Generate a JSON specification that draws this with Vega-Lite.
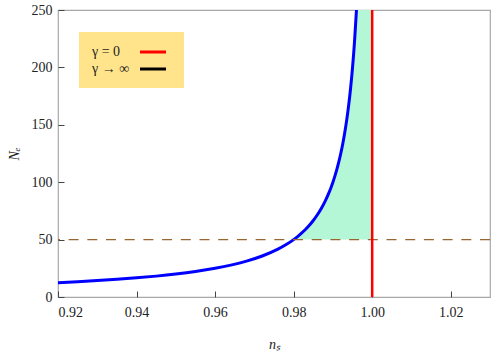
{
  "$schema": "https://vega.github.io/schema/vega-lite/v6.json",
  "width": 432,
  "height": 287,
  "autosize": {"type": "none"},
  "padding": {"left": 58, "top": 10, "right": 1, "bottom": 57},
  "background": "white",
  "config": {
    "view": {"stroke": "#A8A8A8", "strokeWidth": 1.2},
    "font": "Liberation Serif"
  },
  "datasets": {
    "curve": [
      {"n": 0.92, "N": 12.5},
      {"n": 0.925, "N": 13.33},
      {"n": 0.93, "N": 14.29},
      {"n": 0.935, "N": 15.38},
      {"n": 0.94, "N": 16.67},
      {"n": 0.945, "N": 18.18},
      {"n": 0.95, "N": 20.0},
      {"n": 0.955, "N": 22.22},
      {"n": 0.96, "N": 25.0},
      {"n": 0.964, "N": 27.78},
      {"n": 0.968, "N": 31.25},
      {"n": 0.972, "N": 35.71},
      {"n": 0.976, "N": 41.67},
      {"n": 0.978, "N": 45.45},
      {"n": 0.98, "N": 50.0},
      {"n": 0.981, "N": 52.63},
      {"n": 0.982, "N": 55.56},
      {"n": 0.983, "N": 58.82},
      {"n": 0.984, "N": 62.5},
      {"n": 0.985, "N": 66.67},
      {"n": 0.986, "N": 71.43},
      {"n": 0.987, "N": 76.92},
      {"n": 0.988, "N": 83.33},
      {"n": 0.989, "N": 90.91},
      {"n": 0.9895, "N": 95.24},
      {"n": 0.99, "N": 100.0},
      {"n": 0.9905, "N": 105.26},
      {"n": 0.991, "N": 111.11},
      {"n": 0.9915, "N": 117.65},
      {"n": 0.992, "N": 125.0},
      {"n": 0.9925, "N": 133.33},
      {"n": 0.993, "N": 142.86},
      {"n": 0.9935, "N": 153.85},
      {"n": 0.994, "N": 166.67},
      {"n": 0.9945, "N": 181.82},
      {"n": 0.995, "N": 200.0},
      {"n": 0.9955, "N": 222.22},
      {"n": 0.996, "N": 250.0}
    ]
  },
  "layer": [
    {
      "data": {"name": "curve"},
      "transform": [{"filter": "datum.N >= 50"}],
      "mark": {"type": "area", "orient": "horizontal", "color": "#B3F7D6", "clip": true},
      "encoding": {
        "y": {
          "field": "N", "type": "quantitative",
          "scale": {"domain": [0, 250], "nice": false, "zero": false},
          "axis": {
            "orient": "left",
            "title": "Nₑ",
            "values": [0, 50, 100, 150, 200, 250],
            "offset": -6,
            "tickSize": 6, "tickColor": "#444444", "tickWidth": 1,
            "domain": false, "grid": false,
            "labelFont": "Liberation Serif", "labelFontSize": 14, "labelColor": "#222222",
            "labelPadding": 6,
            "titleFont": "Liberation Serif", "titleFontStyle": "italic", "titleFontWeight": "normal", "titleFontSize": 14, "titleColor": "#222222",
            "titlePadding": 10
          }
        },
        "x": {
          "field": "n", "type": "quantitative",
          "scale": {"domain": [0.92, 1.03], "nice": false, "zero": false},
          "axis": {
            "orient": "bottom",
            "title": "nₛ",
            "values": [0.92, 0.94, 0.96, 0.98, 1.0, 1.02],
            "format": ".2f",
            "offset": -6,
            "tickSize": 6, "tickColor": "#444444", "tickWidth": 1,
            "domain": false, "grid": false,
            "labelFont": "Liberation Serif", "labelFontSize": 14, "labelColor": "#222222",
            "labelPadding": 8,
            "titleFont": "Liberation Serif", "titleFontStyle": "italic", "titleFontWeight": "normal", "titleFontSize": 14, "titleColor": "#222222",
            "titlePadding": 18
          }
        },
        "x2": {"datum": 1}
      }
    },
    {
      "data": {"name": "curve"},
      "mark": {"type": "line", "color": "#0000FF", "strokeWidth": 3, "interpolate": "monotone", "clip": true},
      "encoding": {
        "x": {"field": "n", "type": "quantitative", "scale": {"domain": [0.92, 1.03], "nice": false, "zero": false}},
        "y": {"field": "N", "type": "quantitative", "scale": {"domain": [0, 250], "nice": false, "zero": false}}
      }
    },
    {
      "data": {"values": [{"N": 50}]},
      "mark": {"type": "rule", "color": "#996633", "strokeWidth": 1.3, "strokeDash": [10, 8.7]},
      "encoding": {
        "y": {"field": "N", "type": "quantitative", "scale": {"domain": [0, 250], "nice": false, "zero": false}}
      }
    },
    {
      "data": {"values": [{"n": 1, "case": "γ = 0"}]},
      "mark": {"type": "rule", "strokeWidth": 2.5},
      "encoding": {
        "x": {"field": "n", "type": "quantitative", "scale": {"domain": [0.92, 1.03], "nice": false, "zero": false}},
        "color": {
          "field": "case",
          "type": "nominal",
          "scale": {"domain": ["γ = 0", "γ → ∞"], "range": ["#FF0000", "#000000"]},
          "legend": {
            "orient": "none",
            "legendX": 21,
            "legendY": 22,
            "title": null,
            "symbolType": "M-2,0H2",
            "symbolSize": 169,
            "symbolStrokeWidth": 3,
            "symbolOffset": 54,
            "labelOffset": -69,
            "labelFont": "Liberation Serif",
            "labelFontSize": 14,
            "labelColor": "#222222",
            "fillColor": "#FFE48C",
            "padding": 12,
            "rowPadding": 2
          }
        }
      }
    }
  ]
}
